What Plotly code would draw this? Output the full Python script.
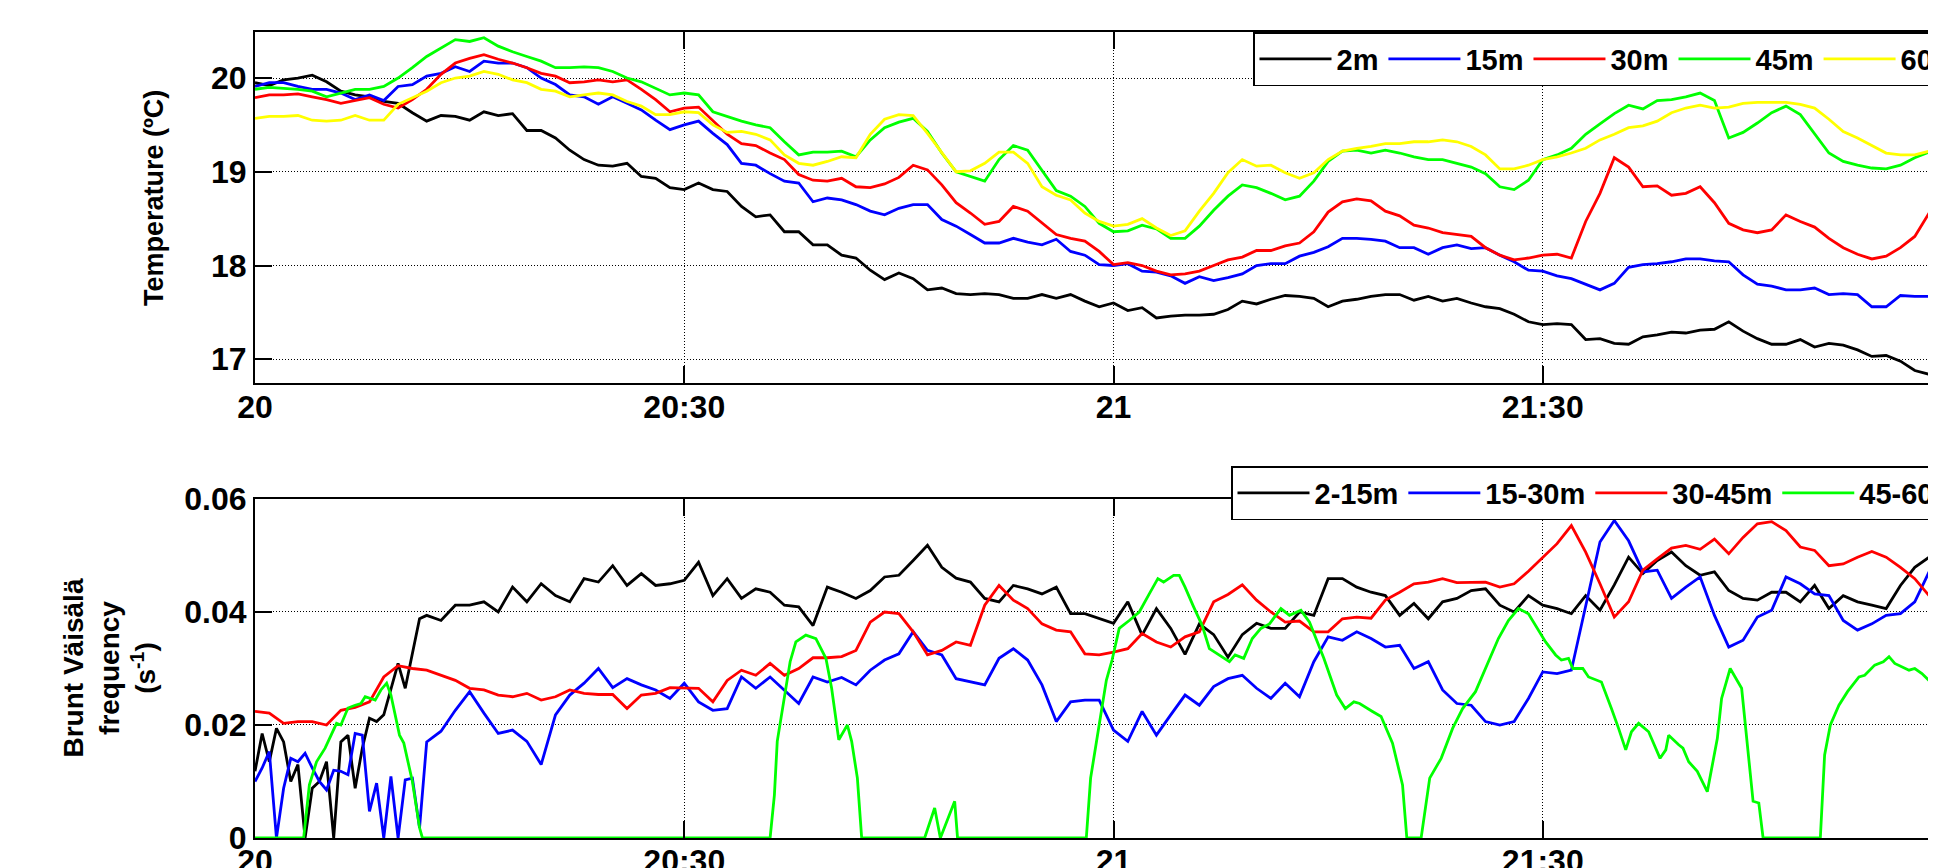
import plotly.graph_objects as go

# ---------------- data (time in minutes after 20:00) ----------------
t_top = list(range(118)) + [117.6]

temp_2m = [19.95, 19.92, 19.98, 20.0, 20.03, 19.96, 19.86, 19.82, 19.8, 19.75, 19.73, 19.63, 19.54, 19.6, 19.59, 19.55, 19.64, 19.6, 19.62, 19.44, 19.44, 19.36, 19.23, 19.13, 19.07, 19.06, 19.09, 18.95, 18.93, 18.83, 18.81,
           18.88, 18.81, 18.79, 18.63, 18.52, 18.54, 18.36, 18.36, 18.22, 18.22, 18.11, 18.08, 17.95, 17.85, 17.92, 17.86, 17.74, 17.76, 17.7, 17.69, 17.7, 17.69, 17.65, 17.65, 17.69, 17.65, 17.69, 17.62, 17.56, 17.6,
           17.52, 17.55, 17.44, 17.46, 17.47, 17.47, 17.48, 17.53, 17.62, 17.59, 17.64, 17.68, 17.67, 17.65, 17.56, 17.62, 17.64, 17.67, 17.69, 17.69, 17.63, 17.67, 17.62, 17.65, 17.6, 17.56, 17.54, 17.48, 17.4, 17.37,
           17.38, 17.37, 17.21, 17.22, 17.17, 17.16, 17.24, 17.26, 17.29, 17.28, 17.31, 17.32, 17.4, 17.3, 17.22, 17.16, 17.16, 17.21, 17.13, 17.17, 17.15, 17.1, 17.03, 17.04, 16.98, 16.88, 16.84, 16.9]

temp_15m = [19.91, 19.95, 19.95, 19.91, 19.88, 19.88, 19.84, 19.77, 19.82, 19.76, 19.91, 19.93, 20.02, 20.05, 20.12, 20.07, 20.18, 20.16, 20.16, 20.11, 20.0, 19.93, 19.82, 19.8, 19.72, 19.8, 19.73, 19.66, 19.55, 19.45, 19.5,
            19.54, 19.41, 19.29, 19.09, 19.07, 18.98, 18.9, 18.88, 18.68, 18.72, 18.7, 18.65, 18.58, 18.54, 18.61, 18.65, 18.65, 18.49, 18.42, 18.33, 18.24, 18.24, 18.29, 18.25, 18.22, 18.28, 18.15, 18.11, 18.01, 18.0,
            18.02, 17.94, 17.93, 17.89, 17.81, 17.88, 17.84, 17.87, 17.91, 18.0, 18.02, 18.02, 18.1, 18.14, 18.2, 18.29, 18.29, 18.28, 18.26, 18.19, 18.19, 18.12, 18.19, 18.22, 18.18, 18.19, 18.11, 18.04, 17.95, 17.94,
            17.89, 17.86, 17.8, 17.74, 17.81, 17.98, 18.01, 18.02, 18.04, 18.07, 18.07, 18.05, 18.04, 17.9, 17.8, 17.78, 17.74, 17.74, 17.76, 17.69, 17.7, 17.69, 17.56, 17.56, 17.68, 17.67, 17.67, 17.65]

temp_30m = [19.79, 19.82, 19.82, 19.83, 19.8, 19.77, 19.73, 19.76, 19.79, 19.72, 19.68, 19.77, 19.88, 20.04, 20.16, 20.21, 20.25, 20.2, 20.16, 20.11, 20.05, 20.02, 19.95, 19.96, 19.98, 19.96, 19.98, 19.88, 19.77, 19.64, 19.68,
            19.69, 19.54, 19.4, 19.3, 19.28, 19.2, 19.13, 18.97, 18.91, 18.9, 18.93, 18.84, 18.83, 18.87, 18.94, 19.07, 19.02, 18.86, 18.67, 18.56, 18.44, 18.47, 18.63, 18.58, 18.45, 18.33, 18.29, 18.26, 18.15, 18.01,
            18.03, 18.0, 17.94, 17.9, 17.91, 17.94, 18.0, 18.06, 18.09, 18.16, 18.16, 18.21, 18.24, 18.36, 18.57, 18.68, 18.71, 18.69, 18.58, 18.53, 18.43, 18.4, 18.35, 18.33, 18.31, 18.19, 18.11, 18.06, 18.08, 18.11,
            18.12, 18.08, 18.47, 18.77, 19.15, 19.05, 18.84, 18.85, 18.75, 18.77, 18.84, 18.67, 18.45, 18.38, 18.35, 18.38, 18.54, 18.47, 18.41, 18.29, 18.19, 18.12, 18.07, 18.1, 18.19, 18.31, 18.56, 18.65]

temp_45m = [19.88, 19.9, 19.89, 19.88, 19.86, 19.8, 19.84, 19.88, 19.88, 19.91, 20.0, 20.11, 20.23, 20.32, 20.41, 20.39, 20.43, 20.34, 20.28, 20.23, 20.18, 20.11, 20.11, 20.12, 20.11, 20.07, 20.0, 19.96, 19.89, 19.82, 19.84,
            19.82, 19.64, 19.59, 19.54, 19.5, 19.47, 19.32, 19.18, 19.21, 19.21, 19.22, 19.16, 19.34, 19.47, 19.53, 19.57, 19.43, 19.2, 19.0, 18.95, 18.9, 19.13, 19.28, 19.23, 19.01, 18.8, 18.74, 18.63, 18.45, 18.36,
            18.37, 18.43, 18.39, 18.29, 18.29, 18.42, 18.59, 18.74, 18.86, 18.83, 18.77, 18.7, 18.74, 18.9, 19.11, 19.22, 19.23, 19.2, 19.23, 19.2, 19.16, 19.13, 19.13, 19.09, 19.05, 18.98, 18.84, 18.81, 18.91, 19.13,
            19.18, 19.25, 19.4, 19.51, 19.62, 19.71, 19.67, 19.76, 19.77, 19.8, 19.84, 19.76, 19.36, 19.42, 19.52, 19.63, 19.7, 19.61, 19.41, 19.2, 19.11, 19.07, 19.04, 19.03, 19.07, 19.15, 19.21, 19.25]

temp_60m = [19.57, 19.59, 19.59, 19.6, 19.55, 19.54, 19.55, 19.6, 19.55, 19.55, 19.72, 19.79, 19.86, 19.95, 20.0, 20.02, 20.07, 20.04, 19.98, 19.95, 19.88, 19.86, 19.8, 19.82, 19.84, 19.82, 19.75, 19.7, 19.61, 19.61, 19.64,
            19.63, 19.5, 19.42, 19.43, 19.4, 19.34, 19.18, 19.09, 19.07, 19.11, 19.16, 19.15, 19.4, 19.56, 19.61, 19.6, 19.41, 19.2, 19.0, 19.01, 19.09, 19.21, 19.21, 19.09, 18.84, 18.75, 18.7, 18.56, 18.47, 18.42,
            18.44, 18.5, 18.4, 18.32, 18.37, 18.58, 18.77, 18.99, 19.13, 19.06, 19.07, 18.99, 18.93, 18.99, 19.13, 19.22, 19.25, 19.27, 19.3, 19.3, 19.32, 19.32, 19.34, 19.32, 19.27, 19.18, 19.03, 19.03, 19.07, 19.13,
            19.16, 19.2, 19.25, 19.34, 19.4, 19.47, 19.49, 19.54, 19.63, 19.68, 19.71, 19.68, 19.69, 19.73, 19.74, 19.74, 19.74, 19.72, 19.68, 19.56, 19.43, 19.36, 19.28, 19.2, 19.18, 19.18, 19.22, 19.27]

# Brunt-Vaisala frequency, in units of 1e-3 s^-1
t_fine = [i * 0.5 for i in range(25)] + list(range(13, 118)) + [117.6]

bv_2_15 = [11.8, 18.5, 13.5, 19.4, 17.0, 10.0, 13.0, 0.0, 8.8, 10.0, 13.5, 0.0, 17.0, 18.2, 8.8, 15.9, 21.2, 20.6, 21.8, 26.5, 30.9, 26.5, 32.9, 38.8, 39.4,
           38.5, 41.2, 41.2, 41.8, 40.0, 44.4, 41.8, 45.0, 42.9, 41.8, 45.9, 45.3, 48.2, 44.7, 46.8, 44.7, 45.0, 45.6,
           48.8, 42.9, 45.9, 42.4, 44.1, 43.5, 41.2, 40.9, 37.6, 44.4, 43.5, 42.4, 43.8, 46.2, 46.5, 49.1, 51.8, 47.9, 46.0, 45.3, 42.4, 41.8, 44.7, 44.1, 43.2, 44.4, 39.7, 39.7, 38.8, 38.0,
           41.8, 35.9, 40.6, 37.1, 32.5, 37.9, 36.0, 32.0, 36.0, 38.0, 37.1, 37.1, 40.0, 39.4, 45.9, 45.9, 44.4, 43.5, 42.9, 39.4, 41.5, 38.8, 41.8, 42.4, 43.8, 44.1, 41.2, 40.0, 42.9, 41.2,
           40.6, 39.7, 42.9, 40.3, 44.8, 49.7, 46.8, 49.1, 50.6, 48.2, 46.5, 47.1, 43.8, 42.4, 42.1, 43.5, 43.5, 41.8, 44.7, 40.6, 42.9, 41.8, 41.2, 40.6, 44.7, 47.9, 49.7, 48.2]

bv_15_30 = [10.0, 12.4, 15.3, 0.0, 8.8, 14.1, 13.5, 15.0, 12.4, 10.0, 8.5, 12.0, 11.8, 11.2, 18.5, 18.2, 4.7, 9.7, 0.0, 10.9, 0.0, 10.3, 10.6, 1.8, 17.0,
            18.9, 22.6, 25.9, 22.1, 18.5, 19.1, 17.1, 13.0, 21.8, 25.3, 27.4, 30.0, 26.6, 28.2, 27.1, 26.2, 24.7, 27.4,
            24.1, 22.6, 22.9, 28.5, 26.5, 28.5, 26.2, 23.8, 28.5, 27.6, 28.4, 27.1, 29.7, 31.5, 32.6, 36.5, 33.2, 32.4, 28.2, 27.6, 27.1, 31.8, 33.5, 31.5, 27.1, 20.6, 24.1, 24.4, 24.4, 19.1,
            17.1, 22.4, 18.2, 21.8, 25.3, 23.5, 26.8, 28.2, 28.8, 26.5, 24.7, 27.4, 25.0, 31.2, 35.6, 35.0, 36.5, 35.3, 33.8, 34.1, 30.0, 31.2, 26.2, 23.8, 23.5, 20.6, 20.0, 20.6, 24.7, 29.4,
            29.1, 29.7, 41.2, 52.4, 56.2, 52.6, 47.1, 47.4, 42.4, 44.4, 46.2, 39.4, 33.8, 35.0, 39.1, 40.3, 46.2, 45.0, 43.2, 42.9, 38.5, 36.8, 37.9, 39.4, 39.7, 41.8, 47.1, 50.9]

bv_30_45 = [22.4, 22.1, 20.3, 20.6, 20.6, 20.0, 22.6, 23.1, 24.1, 28.5, 30.5, 30.0, 29.7, 28.8, 27.9, 26.5, 26.2, 25.3, 25.0, 25.6, 24.4, 25.0, 26.2, 25.6, 25.4, 25.4, 22.9, 25.3, 25.6, 26.6, 26.5,
            26.5, 24.1, 27.9, 29.7, 28.8, 30.9, 28.8, 30.0, 31.9, 31.9, 32.1, 33.2, 38.2, 40.0, 39.7, 36.5, 32.4, 33.2, 34.7, 34.1, 41.2, 44.7, 42.1, 40.6, 37.9, 36.8, 36.5, 32.6, 32.4, 32.9,
            33.5, 36.2, 34.7, 33.8, 35.6, 36.5, 41.8, 43.1, 44.8, 42.1, 40.0, 38.2, 38.4, 36.5, 36.5, 38.8, 39.1, 38.9, 42.1, 43.5, 45.0, 45.3, 45.9, 45.2, 45.2, 45.3, 44.4, 45.0, 47.2, 49.7,
            52.1, 55.3, 50.6, 45.0, 39.1, 41.8, 47.4, 49.4, 51.3, 51.8, 51.1, 52.9, 50.3, 53.2, 55.6, 56.0, 54.4, 51.5, 50.9, 48.2, 48.5, 49.7, 50.7, 49.7, 47.9, 45.9, 42.9, 41.5]

bv_45_60_t = [0, 3.4, 3.8, 4.3, 4.9, 5.3, 5.7, 6.0, 6.5, 7.0, 7.4, 7.7, 8.4, 8.8, 9.2, 9.5, 10.1, 10.4, 11.0, 11.5, 11.7,
              36.0, 36.3, 36.5, 37.0, 37.4, 37.8, 38.5, 39.2, 39.9, 40.3, 40.8, 41.4, 41.7, 42.1, 42.4,
              46.8, 47.5, 47.9, 48.9, 49.1,
              58.1, 58.4, 58.9, 59.5, 59.9, 60.4, 61.1, 61.8, 62.5, 63.1, 63.5, 64.2, 64.6, 65.0, 65.6, 66.2, 66.7, 67.4, 68.1, 68.5, 69.1, 69.7, 70.3, 70.9, 71.7, 72.3, 73.1, 73.7, 74.7, 75.6, 76.2, 76.8, 77.2, 78.1, 78.7, 79.5, 80.2, 80.5,
              81.5, 82.1, 82.9, 83.7, 84.4, 85.3, 86.2, 86.9, 87.6, 88.3, 89.0, 89.5, 90.2, 90.9, 91.3, 91.8, 92.1, 92.8, 93.2, 94.1, 94.5, 94.8, 95.3, 95.8, 96.2, 96.7, 97.4, 98.2, 98.6, 98.8, 99.5, 99.8, 100.2, 100.8, 101.5, 102.2, 102.5, 103.1, 103.9, 104.7, 105.1, 105.4,
              109.4, 109.7, 110.1, 110.7, 111.3, 111.7, 112.1, 112.5, 113.2, 113.8, 114.2, 114.6, 115.1, 115.6, 116.0, 116.5, 117.1, 117.6]
bv_45_60 = [0, 0, 9.4, 13.5, 15.9, 18.2, 20.3, 20.0, 23.0, 23.5, 23.8, 25.0, 24.4, 26.2, 27.4, 25.3, 18.2, 16.8, 10.0, 1.8, 0,
            0, 7.6, 17.1, 25.3, 31.2, 34.7, 35.9, 35.3, 31.8, 26.5, 17.4, 20.0, 17.1, 10.6, 0,
            0, 5.3, 0, 6.5, 0,
            0, 10.6, 18.2, 27.9, 31.5, 37.1, 38.5, 40.0, 43.2, 45.9, 45.3, 46.5, 46.5, 44.4, 40.9, 37.6, 33.5, 32.4, 31.2, 32.4, 31.8, 35.3, 37.1, 37.9, 40.6, 39.4, 40.3, 38.2, 31.8, 25.3, 22.9, 24.1, 23.8, 22.4, 21.5, 16.8, 9.4, 0,
            0, 10.6, 14.1, 19.4, 22.9, 25.9, 31.2, 35.3, 38.5, 40.6, 39.7, 37.6, 34.7, 32.4, 31.5, 31.8, 30.0, 30.0, 28.5, 27.6, 24.7, 22.9, 19.4, 15.6, 18.8, 20.3, 18.8, 14.1, 15.6, 18.2, 16.5, 15.9, 13.5, 11.8, 8.2, 17.6, 24.7, 30.0, 26.5, 6.5, 6.2, 0,
            0, 14.7, 20.0, 23.5, 25.9, 27.1, 28.5, 28.8, 30.6, 31.2, 32.1, 30.9, 30.3, 29.7, 30.0, 29.1, 27.6, 28.2]

x_tickvals = [0, 30, 60, 90, 120]
x_ticktext = ["20", "20:30", "21", "21:30", "22"]
temp_tickvals = [17, 18, 19, 20]
bv_tickvals = [0, 0.02, 0.04, 0.06]
bv_ticktext = ["0", "0.02", "0.04", "0.06"]

top_names = ["2m", "15m", "30m", "45m", "60m"]
bot_names = ["2-15m", "15-30m", "30-45m", "45-60m"]
colors = ["#000000", "#0000ff", "#ff0000", "#00ff00", "#ffff00"]

# ---------------- figure ----------------
FONT = "Liberation Sans, Arial, Helvetica, sans-serif"
fig = go.Figure()

for name, vals, col in zip(top_names, [temp_2m, temp_15m, temp_30m, temp_45m, temp_60m], colors):
    fig.add_trace(go.Scatter(x=t_top, y=vals, mode="lines", name=name,
                             line=dict(color=col, width=2.8),
                             xaxis="x", yaxis="y", legend="legend"))

bot_series = [(t_fine, bv_2_15), (t_fine, bv_15_30), (t_top, bv_30_45), (bv_45_60_t, bv_45_60)]
for name, (tt, vals), col in zip(bot_names, bot_series, colors):
    fig.add_trace(go.Scatter(x=tt, y=[v * 1e-3 for v in vals], mode="lines", name=name,
                             line=dict(color=col, width=2.8),
                             xaxis="x2", yaxis="y2", legend="legend2"))

W, H = 2000, 900
ML, MR, MT, MB = 247, 36, 24, 70
PW = W - ML - MR

tick_font = dict(family=FONT, size=32, color="black", weight="bold")
text_font = dict(family=FONT, size=28, color="black", weight="bold")
legend_font = dict(family=FONT, size=29, color="black", weight="bold")

axis_common = dict(
    showline=True, linecolor="black", linewidth=2, mirror="ticks",
    ticks="inside", ticklen=17, tickwidth=1.5, tickcolor="black",
    showgrid=True, gridcolor="black", gridwidth=1, griddash="1px,2px",
    zeroline=False, tickfont=tick_font,
)

legend_common = dict(xanchor="left", yanchor="top", orientation="h",
                     bgcolor="white", bordercolor="black", borderwidth=1.5,
                     font=legend_font, itemwidth=72)

fig.update_layout(
    width=W, height=H, template="none",
    paper_bgcolor="white", plot_bgcolor="white",
    margin=dict(l=ML, r=MR, t=MT, b=MB, autoexpand=False),
    font=text_font,
    showlegend=True,
    xaxis=dict(domain=[0, 1], anchor="y", range=[0, 120], tickmode="array",
               tickvals=x_tickvals, ticktext=x_ticktext, ticklabelstandoff=-6, **axis_common),
    yaxis=dict(domain=[0.5642, 1], anchor="x", range=[16.744, 20.491], tickmode="array",
               tickvals=temp_tickvals, ticktext=[str(v) for v in temp_tickvals], **axis_common),
    xaxis2=dict(domain=[0, 1], anchor="y2", range=[0, 120], tickmode="array",
                tickvals=x_tickvals, ticktext=x_ticktext, ticklabelstandoff=-6, **axis_common),
    yaxis2=dict(domain=[0, 0.4206], anchor="x2", range=[0, 0.06], tickmode="array",
                tickvals=bv_tickvals, ticktext=bv_ticktext, **axis_common),
    legend=dict(x=(1253 - 8 - ML) / PW, y=1.0, **legend_common),
    legend2=dict(x=(1231 - 8 - ML) / PW, y=0.4615, **legend_common),
    annotations=[
        dict(text="Temperature (ºC)", textangle=-90, xref="paper", yref="paper",
             x=(154 - 8 - ML) / PW, y=0.794, xanchor="center", yanchor="middle",
             showarrow=False, font=dict(family=FONT, size=27, color="black", weight="bold")),
        dict(text="Brunt Väisälä<br>frequency<br>(s<sup>-1</sup>)", textangle=-90,
             xref="paper", yref="paper",
             x=(110 - 8 - ML) / PW, y=0.2103, xanchor="center", yanchor="middle",
             showarrow=False, font=text_font),
    ],
)

fig.write_html("out.html")
